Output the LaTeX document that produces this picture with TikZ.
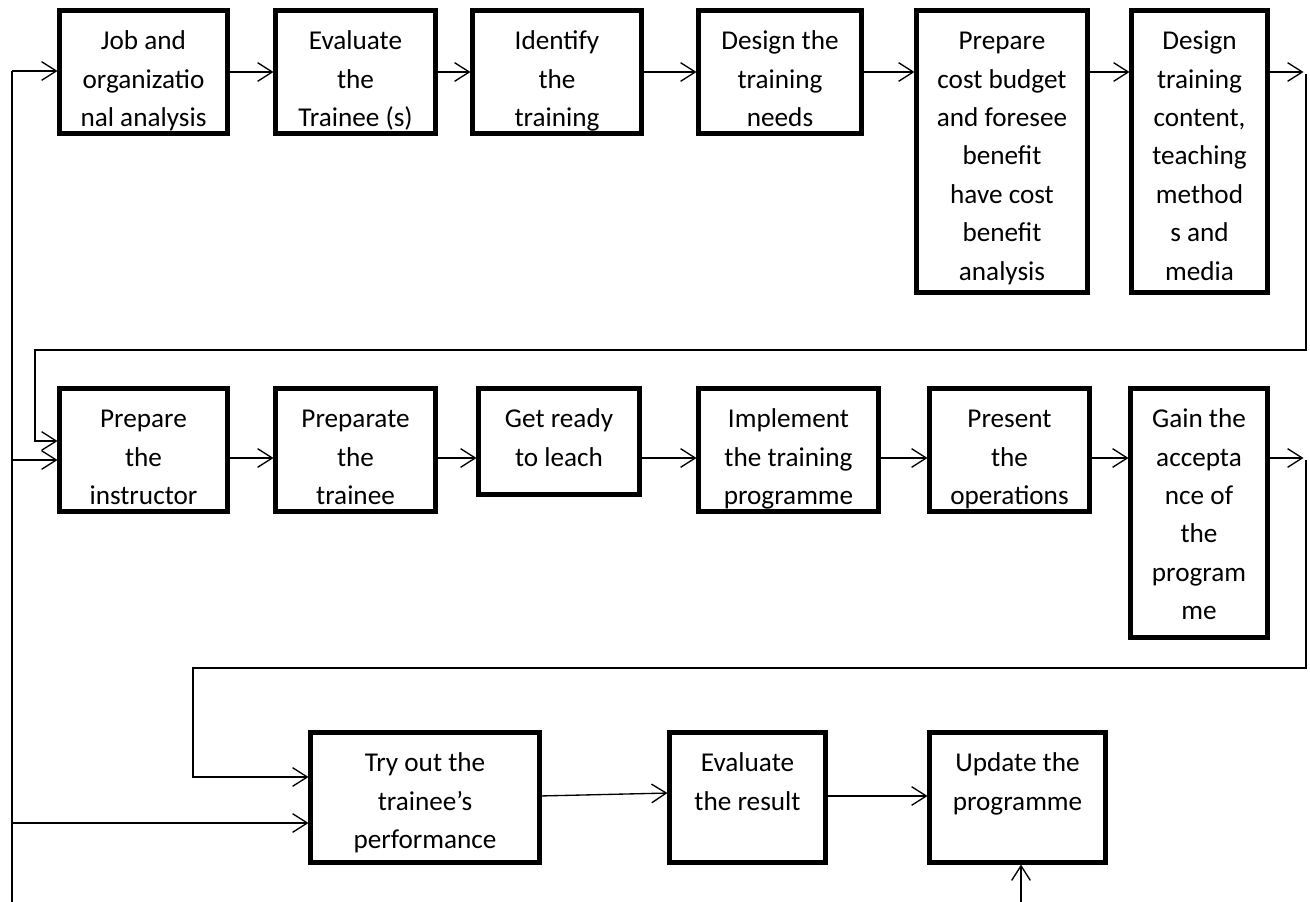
\documentclass[tikz,border=0pt]{standalone}
\usepackage{fontspec}
\setmainfont{Carlito}
\usetikzlibrary{arrows.meta}
\newcommand\bx[6]{%
  \node[boxst, anchor=north west,
        minimum width={0.75pt*(#4-#2-5)}, minimum height={0.75pt*(#5-#3-5)}]
        (#1) at ({#2+2.5},{#3+2.5})
  {\parbox[t][\dimexpr 0.75pt*(#5-#3-5)\relax][t]{\dimexpr 0.75pt*(#4-#2-5)\relax}{\centering\rule{0pt}{29.4pt}#6}};}
\begin{document}
\begin{tikzpicture}[x=0.75pt, y=-0.75pt,
  boxst/.style={draw, line width=3.75pt, inner sep=0pt, outer sep=0pt,
    font=\fontsize{20.4}{28.8}\selectfont},
  conn/.style={line width=1pt},
  arr/.style={conn, -{Straight Barb[length=11pt,width=14pt]}, shorten >=1.5pt}]
\useasboundingbox (0,0) rectangle (1310,902);
% row 1
\bx{b1}{57}{8}{230}{136}{Job and\\organizatio\\nal analysis}
\bx{b2}{273}{8}{438}{136}{Evaluate\\the\\Trainee (s)}
\bx{b3}{470}{8}{644}{136}{Identify\\the\\training}
\bx{b4}{696}{8}{864}{136}{Design the\\training\\needs}
\bx{b5}{914}{8}{1090}{295}{Prepare\\cost budget\\and foresee\\benefit\\have cost\\benefit\\analysis}
\bx{b6}{1129}{8}{1270}{295}{Design\\training\\content,\\teaching\\method\\s and\\media}
% row 2
\bx{b7}{57}{386}{230}{514}{Prepare\\the\\instructor}
\bx{b8}{273}{386}{438}{514}{Preparate\\the\\trainee}
\bx{b9}{476}{386}{642}{497}{Get ready\\to leach}
\bx{b10}{696}{386}{881}{514}{Implement\\the training\\programme}
\bx{b11}{927}{386}{1092}{514}{Present\\the\\operations}
\bx{b12}{1128}{386}{1270}{640}{Gain the\\accepta\\nce of\\the\\program\\me}
% row 3
\bx{b13}{308}{730}{542}{865}{Try out the\\trainee’s\\performance}
\bx{b14}{667}{730}{828}{865}{Evaluate\\the result}
\bx{b15}{927}{730}{1108}{865}{Update the\\programme}
% left main line
\coordinate (lb) at (12,902);
\coordinate (l1) at (12,71);
\coordinate (l2) at (12,460);
\coordinate (l3) at (12,823);
\draw[conn] (lb) -- (l1);
\draw[arr] (l1) -- (b1.west |- l1);
\draw[arr] (l2) -- (b7.west |- l2);
\draw[arr] (l3) -- (b13.west |- l3);
% row 1 chain
\coordinate (r1) at (0,72);
\draw[arr] (b1.east |- r1) -- (b2.west |- r1);
\draw[arr] (b2.east |- r1) -- (b3.west |- r1);
\draw[arr] (b3.east |- r1) -- (b4.west |- r1);
\draw[arr] (b4.east |- r1) -- (b5.west |- r1);
\draw[arr] (b5.east |- r1) -- (b6.west |- r1);
\coordinate (e1) at (1305.5,72);
\draw[arr] (b6.east |- r1) -- (e1);
\coordinate (c1) at (1306,74);
\coordinate (c2) at (1306,350);
\coordinate (c3) at (35,350);
\coordinate (c4) at (35,441);
\draw[arr] (c1) -- (c2) -- (c3) -- (c4) -- (b7.west |- c4);
% row 2 chain
\coordinate (r2) at (0,458);
\draw[arr] (b7.east |- r2) -- (b8.west |- r2);
\draw[arr] (b8.east |- r2) -- (b9.west |- r2);
\draw[arr] (b9.east |- r2) -- (b10.west |- r2);
\draw[arr] (b10.east |- r2) -- (b11.west |- r2);
\draw[arr] (b11.east |- r2) -- (b12.west |- r2);
\coordinate (e2) at (1305.5,458);
\draw[arr] (b12.east |- r2) -- (e2);
\coordinate (d1) at (1306,460);
\coordinate (d2) at (1306,668);
\coordinate (d3) at (193,668);
\coordinate (d4) at (193,777);
\draw[arr] (d1) -- (d2) -- (d3) -- (d4) -- (b13.west |- d4);
% row 3 chain
\coordinate (f1) at (0,796);
\coordinate (f2) at (0,793);
\draw[arr] (b13.east |- f1) -- (b14.west |- f2);
\coordinate (g) at (0,796);
\draw[arr] (b14.east |- g) -- (b15.west |- g);
\coordinate (h) at (1021,902);
\draw[arr] (h) -- (b15.south -| h);
\end{tikzpicture}
\end{document}
